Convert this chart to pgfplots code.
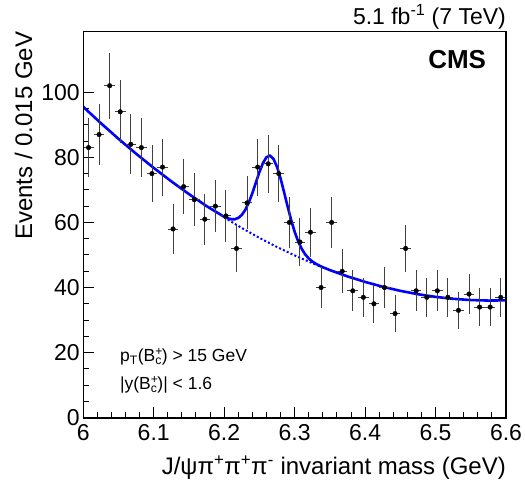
\documentclass[border=0pt]{standalone}
\usepackage{fontspec}
\setmainfont{Liberation Sans}
\usepackage{pgfplots}
\pgfplotsset{compat=1.18}
\newcommand{\subsup}[2]{\rlap{\textsuperscript{#2}}\textsubscript{#1}}

\begin{document}
\begin{tikzpicture}
\begin{axis}[name=ax,
    scale only axis,
    width=423pt, height=386.3pt,
    xmin=6, xmax=6.6, ymin=0, ymax=118.6,
    clip mode=individual,
    xtick={6,6.1,6.2,6.3,6.4,6.5,6.6},
    ytick={0,20,40,60,80,100},
    minor x tick num=4, minor y tick num=3,
    tick align=inside, xtick pos=bottom, ytick pos=left,
    major tick length=11pt, minor tick length=5.5pt,
    axis line style={line width=1.5pt},
    every tick/.style={line width=1pt, black},
    /pgf/number format/assume math mode=true,
    /pgf/number format/fixed,
    tick label style={font=\fontsize{23}{27}\selectfont},
    xticklabel style={yshift=-3pt},
    label style={font=\fontsize{24}{28}\selectfont},
    xlabel={J/ψπ\textsuperscript{+}π\textsuperscript{+}π\textsuperscript{-} invariant mass (GeV)},
    ylabel={Events / 0.015 GeV},
    xlabel style={at={(axis description cs:1,-0.1477)}, anchor=base east, inner sep=0pt},
    ylabel style={at={(axis description cs:-0.121,1)}, anchor=base east, inner sep=0pt},
]
% background only (dotted)
\addplot[blue, line width=2pt, dash pattern=on 2pt off 2.2pt] table {
6.200 61.54
6.225 58.29
6.250 55.26
6.275 52.46
6.300 49.87
6.325 47.50
6.340 46.19
};
% full fit
\addplot[blue, line width=2.6pt] table {
6.000 95.51
6.025 90.49
6.050 85.69
6.075 81.11
6.100 76.76
6.125 72.62
6.150 68.71
6.175 65.02
6.200 61.73
6.205 61.28
6.210 60.99
6.215 60.98
6.220 61.38
6.225 62.30
6.230 63.88
6.235 66.14
6.240 69.00
6.245 72.23
6.250 75.46
6.255 78.22
6.260 80.03
6.265 80.52
6.270 79.51
6.275 77.09
6.280 73.54
6.285 69.32
6.290 64.93
6.295 60.78
6.300 57.15
6.305 54.19
6.310 51.91
6.315 50.19
6.320 48.95
6.325 48.02
6.330 47.32
6.335 46.74
6.340 46.24
6.350 45.36
6.375 43.43
6.400 41.73
6.425 40.25
6.450 38.99
6.475 37.95
6.500 37.13
6.525 36.54
6.550 36.16
6.575 36.00
6.600 36.07
};
% data
\addplot[only marks, mark=*, mark size=2.3pt, black,
    error bars/.cd, x dir=both, x explicit, y dir=both, y explicit,
    error mark=none, error bar style={line width=0.9pt, black!75}]
    table[x=x, y=y, x error=ex, y error=ey] {
x y ex ey
6.0075 83 0.0075 9.11
6.0225 87 0.0075 9.33
6.0375 102 0.0075 10.10
6.0525 94 0.0075 9.70
6.0675 84 0.0075 9.17
6.0825 83 0.0075 9.11
6.0975 75 0.0075 8.66
6.1125 77 0.0075 8.77
6.1275 58 0.0075 7.62
6.1425 71 0.0075 8.43
6.1575 67 0.0075 8.19
6.1725 61 0.0075 7.81
6.1875 65 0.0075 8.06
6.2025 62 0.0075 7.87
6.2175 52 0.0075 7.21
6.2325 66 0.0075 8.12
6.2475 77 0.0075 8.77
6.2625 78 0.0075 8.83
6.2775 75 0.0075 8.66
6.2925 60 0.0075 7.75
6.3075 54 0.0075 7.35
6.3225 57 0.0075 7.55
6.3375 40 0.0075 6.32
6.3525 60 0.0075 7.75
6.3675 45 0.0075 6.71
6.3825 39 0.0075 6.24
6.3975 37 0.0075 6.08
6.4125 35 0.0075 5.92
6.4275 40 0.0075 6.32
6.4425 32 0.0075 5.66
6.4575 52 0.0075 7.21
6.4725 39 0.0075 6.24
6.4875 37 0.0075 6.08
6.5025 39 0.0075 6.24
6.5175 37 0.0075 6.08
6.5325 33 0.0075 5.74
6.5475 38 0.0075 6.16
6.5625 34 0.0075 5.83
6.5775 34 0.0075 5.83
6.5925 37 0.0075 6.08
};
\node[anchor=base east, inner sep=0pt, font=\fontsize{26}{30}\selectfont\bfseries] at (axis cs:6.572,107.4) {CMS};
\node[anchor=base west, inner sep=0pt, font=\fontsize{17.5}{21}\selectfont] at (axis cs:6.052,17.3) {p\textsubscript{T}(B\subsup{c}{+}) > 15 GeV};
\node[anchor=base west, inner sep=0pt, font=\fontsize{17.5}{21}\selectfont] at (axis cs:6.052,8.6) {|y(B\subsup{c}{+})| < 1.6};
\node[anchor=base east, inner sep=0pt, font=\fontsize{23}{27}\selectfont] at (axis description cs:1,1.0174) {5.1 fb\textsuperscript{-1} (7 TeV)};
\end{axis}
\draw[line width=1.5pt] (ax.south west) rectangle (ax.north east);
\pgfresetboundingbox
\path ([shift={(-83.3pt,-66pt)}]ax.south west) rectangle ([shift={(19pt,31.7pt)}]ax.north east);
\end{tikzpicture}
\end{document}
